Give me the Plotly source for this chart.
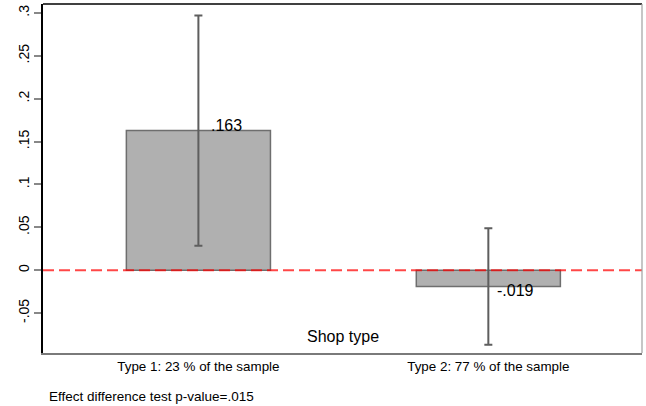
import plotly.graph_objects as go

categories = ["Type 1: 23 % of the sample", "Type 2: 77 % of the sample"]
effects = [0.163, -0.019]
ci_low = [0.0285, -0.087]
ci_high = [0.297, 0.049]
value_labels = [".163", "-.019"]
ytick_vals = [-0.05, 0, 0.05, 0.1, 0.15, 0.2, 0.25, 0.3]
ytick_text = ["-.05", "0", ".05", ".1", ".15", ".2", ".25", ".3"]
x_title = "Shop type"
note = "Effect difference test p-value=.015"

FONT = "Liberation Sans, Arial, sans-serif"

err_plus = [h - v for h, v in zip(ci_high, effects)]
err_minus = [v - l for l, v in zip(ci_low, effects)]

fig = go.Figure()
fig.add_trace(go.Bar(
    x=categories, y=effects, width=0.497,
    marker=dict(color="#b0b0b0", line=dict(color="#6e6e6e", width=1.5)),
    error_y=dict(type="data", symmetric=False, array=err_plus, arrayminus=err_minus,
                 color="#5e5e5e", thickness=2, width=4),
    showlegend=False, hoverinfo="skip",
))

annotations = []
shifts = [(11, 5), (7, -4.5)]
for c, v, t, (xs, ys) in zip(categories, effects, value_labels, shifts):
    annotations.append(dict(x=c, y=v, xref="x", yref="y", text=t, showarrow=False,
                            xanchor="left", yanchor="middle", xshift=xs, yshift=ys,
                            font=dict(family=FONT, size=16, color="black")))
annotations.append(dict(x=0.5, y=0.048, xref="paper", yref="paper", text=x_title,
                        showarrow=False, xanchor="center", yanchor="middle",
                        font=dict(family=FONT, size=16, color="black")))
annotations.append(dict(x=0.0067, y=-0.124, xref="paper", yref="paper", text=note,
                        showarrow=False, xanchor="left", yanchor="middle",
                        font=dict(family=FONT, size=13.5, color="black")))

shapes = [
    dict(type="line", xref="paper", yref="y", x0=0, x1=1, y0=0, y1=0,
         line=dict(color="rgba(255,0,0,0.72)", width=2, dash="11px,5px"), layer="above"),
    dict(type="line", xref="paper", yref="paper", x0=0, x1=1, y0=1, y1=1,
         line=dict(color="black", width=1.5)),
    dict(type="line", xref="paper", yref="paper", x0=1, x1=1, y0=0, y1=1,
         line=dict(color="#a0a0a0", width=1.2)),
]

fig.update_layout(
    width=646, height=406,
    margin=dict(l=43, r=4, t=4, b=53),
    paper_bgcolor="white", plot_bgcolor="white",
    font=dict(family=FONT, size=13, color="black"),
    annotations=annotations, shapes=shapes,
    xaxis=dict(type="category", range=[-0.536, 1.530], showgrid=False, zeroline=False,
               showline=True, linecolor="#7a7a7a", linewidth=1.5, ticks="",
               tickfont=dict(family=FONT, size=13.4, color="black")),
    yaxis=dict(range=[-0.0966, 0.3105], tickvals=ytick_vals, ticktext=ytick_text,
               tickangle=-90, showgrid=False, zeroline=False, showline=True,
               linecolor="black", linewidth=1.5, ticks="outside", ticklen=7,
               tickcolor="#888888", tickwidth=1.5,
               tickfont=dict(family=FONT, size=14, color="black")),
)

fig.write_html("out.html", config={"displayModeBar": False},
               post_script="document.body.style.margin='0';document.body.style.overflow='hidden';")
